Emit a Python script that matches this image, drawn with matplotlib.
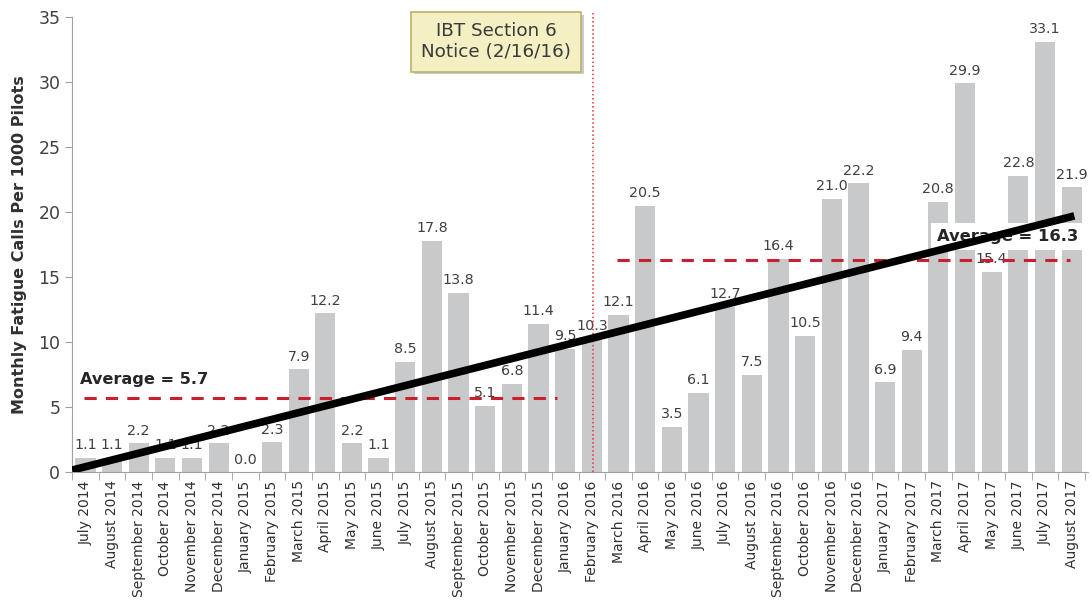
import numpy as np
import matplotlib.pyplot as plt
import matplotlib.patheffects as pe

months = [
    "July 2014", "August 2014", "September 2014", "October 2014", "November 2014",
    "December 2014", "January 2015", "February 2015", "March 2015", "April 2015",
    "May 2015", "June 2015", "July 2015", "August 2015", "September 2015",
    "October 2015", "November 2015", "December 2015", "January 2016", "February 2016",
    "March 2016", "April 2016", "May 2016", "June 2016", "July 2016",
    "August 2016", "September 2016", "October 2016", "November 2016", "December 2016",
    "January 2017", "February 2017", "March 2017", "April 2017", "May 2017",
    "June 2017", "July 2017", "August 2017",
]
calls = [
    1.1, 1.1, 2.2, 1.1, 1.1, 2.2, 0.0, 2.3, 7.9, 12.2,
    2.2, 1.1, 8.5, 17.8, 13.8, 5.1, 6.8, 11.4, 9.5, 10.3,
    12.1, 20.5, 3.5, 6.1, 12.7, 7.5, 16.4, 10.5, 21.0, 22.2,
    6.9, 9.4, 20.8, 29.9, 15.4, 22.8, 33.1, 21.9,
]

avg_before = 5.7
avg_after = 16.3
notice_pos = 19.05          # 2/16/16, inside the February 2016 slot
trend_x = [-0.5, 37.1]
trend_y = [0.15, 19.7]

x = np.arange(len(months))

fig = plt.figure(figsize=(10.92, 6.06), dpi=100)
ax = fig.add_axes([0.066, 0.221, 0.93, 0.751])

ax.bar(x, calls, width=0.76, color="#c8c9cb", zorder=1)
for xi, v in zip(x, calls):
    ax.annotate(f"{v:.1f}", (xi, v), xytext=(0, 4), textcoords="offset points",
                ha="center", va="bottom", fontsize=10.3, color="#404040", zorder=2)

# period averages
ax.plot([-0.05, 17.7], [avg_before] * 2, color="#c8202f", lw=2.2,
        dashes=(4, 3), zorder=4)
ax.plot([19.96, 36.93], [avg_after] * 2, color="#c8202f", lw=2.2,
        dashes=(4, 3), zorder=4)
ax.text(-0.2, 7.1, f"Average = {avg_before}", fontsize=11.6, fontweight="bold",
        color="#262626", ha="left", va="center", zorder=3)
ax.text(31.95, 18.1, f"Average = {avg_after}", fontsize=11.8, fontweight="bold",
        color="#262626", ha="left", va="center", zorder=3,
        bbox=dict(boxstyle="square,pad=0.35", fc="white", ec="none"))

# notice marker
ax.axvline(notice_pos, ymin=0, ymax=1.01, color="#e8303a", lw=1.1, ls=":",
           zorder=3, clip_on=False)
note = ax.text(15.4, 33.1, "IBT Section 6\nNotice (2/16/16)", fontsize=13.2,
               color="#3a3a3a", ha="center", va="center", linespacing=1.25, zorder=5,
               bbox=dict(boxstyle="square,pad=0.55", fc="#f4f0c4", ec="#b8b46a", lw=1.2))
note.get_bbox_patch().set_path_effects(
    [pe.SimplePatchShadow(offset=(2, -2), shadow_rgbFace="#999999", alpha=0.5), pe.Normal()])

# trend line
ax.plot(trend_x, trend_y, color="black", lw=5.5, solid_capstyle="butt", zorder=6)

ax.set_xlim(-0.5, 37.6)
ax.set_ylim(0, 35)
ax.set_yticks(np.arange(0, 36, 5))
ax.tick_params(axis="y", labelsize=12.5, colors="#404040", length=5, color="#a0a0a0")

ax.set_xticks(x)
ax.set_xticklabels(months, rotation=90, fontsize=10, color="#303030")
ax.tick_params(axis="x", length=0, pad=6)
ax.set_xticks(np.arange(-0.5, len(months), 1.0), minor=True)
ax.tick_params(axis="x", which="minor", length=6, color="#a0a0a0")

for side in ("top", "right"):
    ax.spines[side].set_visible(False)
for side in ("left", "bottom"):
    ax.spines[side].set_color("#a0a0a0")

ax.set_ylabel("Monthly Fatigue Calls Per 1000 Pilots", fontsize=11.5,
              fontweight="bold", color="#303030", labelpad=8)

fig.savefig("out.png", dpi=100)
